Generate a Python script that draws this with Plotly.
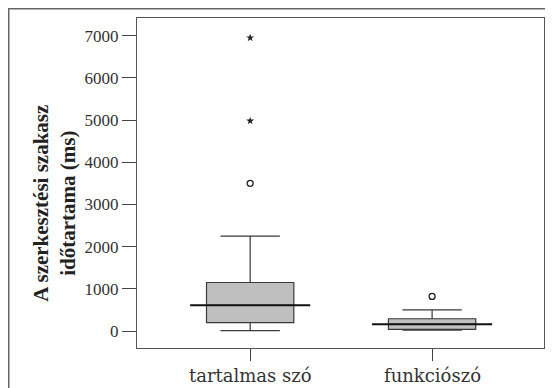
import plotly.graph_objects as go

categories = ["tartalmas szó", "funkciószó"]
q1 = [200, 40]
median = [610, 160]
q3 = [1150, 290]
lower_fence = [10, 20]
upper_fence = [2250, 500]
outliers_circle = [[3500], [820]]
outliers_star = [[4980, 6950], []]
y_ticks = [0, 1000, 2000, 3000, 4000, 5000, 6000, 7000]

positions = list(range(len(categories)))
SERIF = "Liberation Serif, Times New Roman, serif"
WIDE_SERIF = "DejaVu Serif, serif"

fig = go.Figure()
for i, cat in enumerate(categories):
    fig.add_trace(go.Box(
        x=[positions[i]], q1=[q1[i]], median=[median[i]], q3=[q3[i]],
        lowerfence=[lower_fence[i]], upperfence=[upper_fence[i]],
        width=0.48, whiskerwidth=0.68,
        fillcolor="#bfbfbf", line=dict(color="#3a3a3a", width=1.2),
        boxpoints=False, showlegend=False, hoverinfo="skip",
    ))
    # median line extending beyond the box
    fig.add_trace(go.Scatter(
        x=[positions[i] - 0.33, positions[i] + 0.33], y=[median[i], median[i]],
        mode="lines", line=dict(color="#111111", width=2.2),
        showlegend=False, hoverinfo="skip",
    ))
    circ = outliers_circle[i]
    if circ:
        fig.add_trace(go.Scatter(
            x=[positions[i]] * len(circ), y=circ, mode="markers",
            marker=dict(symbol="circle-open", size=6, color="#222222", line=dict(width=1.3)),
            showlegend=False, hoverinfo="skip",
        ))
    stars = outliers_star[i]
    if stars:
        fig.add_trace(go.Scatter(
            x=[positions[i]] * len(stars), y=stars, mode="markers",
            marker=dict(symbol="star", size=6, color="#222222"),
            showlegend=False, hoverinfo="skip",
        ))

annotations = [dict(
    text="<b>A szerkesztési szakasz<br>időtartama (ms)</b>",
    xref="paper", yref="paper", x=-0.2015, y=0.44,
    xanchor="center", yanchor="middle", textangle=-90, showarrow=False,
    font=dict(family=SERIF, size=21, color="#222222"),
)]
for i, cat in enumerate(categories):
    annotations.append(dict(
        text=cat, xref="x", yref="paper", x=positions[i], y=-0.12,
        xanchor="center", yanchor="bottom", showarrow=False,
        font=dict(family=WIDE_SERIF, size=18, color="#333333"),
    ))

fig.update_layout(
    width=545, height=380,
    margin=dict(l=129, r=9, t=10, b=40),
    paper_bgcolor="white", plot_bgcolor="white",
    font=dict(family=SERIF, color="#222222"),
    xaxis=dict(
        range=[-0.622, 1.615], tickvals=positions, showticklabels=False,
        ticks="outside", ticklen=12, tickcolor="#444", tickwidth=1,
        showline=True, linecolor="#555555", linewidth=1, mirror=True,
        showgrid=False, zeroline=False,
    ),
    yaxis=dict(
        range=[-403, 7419], tickvals=y_ticks,
        ticks="outside", ticklen=14, tickcolor="#444", tickwidth=1,
        tickfont=dict(family=SERIF, size=17, color="#333333"),
        showline=True, linecolor="#555555", linewidth=1, mirror=True,
        showgrid=False, zeroline=False,
    ),
    annotations=annotations,
    shapes=[dict(type="rect", xref="paper", yref="paper",
                 x0=-0.3151, y0=-0.2, x1=1.06, y1=1.028,
                 line=dict(color="#666666", width=1.5), layer="below")],
)

fig.write_html("out.html")
